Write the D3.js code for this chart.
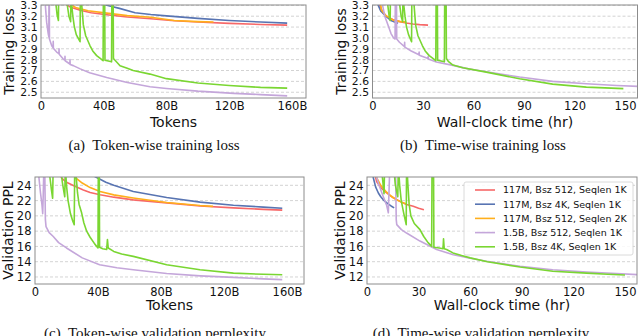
<!DOCTYPE html>
<html lang="en">
<head>
<meta charset="utf-8">
<script src="https://cdn.jsdelivr.net/npm/d3@7"></script>
<title>Training curves</title>
<style>
  body { margin:0; background:#fff; }
  svg text { font-family:"DejaVu Sans", sans-serif; fill:#111; }
  .tick text { font-size:11.5px; }
  .yloss .tick text { font-size:10.8px; }
  .axis-title { font-size:14px; }
  .caption { font-family:"Liberation Serif", "Times New Roman", serif !important; font-size:15px; }
  .grid line { stroke:#c8c8c8; stroke-width:0.8; stroke-dasharray:3,2; }
  .frame { fill:none; stroke:#8c8c8c; stroke-width:1; }
  .series { fill:none; stroke-width:1.6; stroke-linejoin:round; }
  .legend text { font-size:9.5px; }
</style>
</head>
<body>
<script>
var width = 640, height = 336;

// series, in plotting order
var seriesNames = ["117M, Bsz 512, Seqlen 1K", "117M, Bsz 4K, Seqlen 1K", "117M, Bsz 512, Seqlen 2K",
                   "1.5B, Bsz 512, Seqlen 1K", "1.5B, Bsz 4K, Seqlen 1K"];
var seriesColors = ["#f76868", "#5874b2", "#ffaf1c", "#c4a6da", "#7ad632"];

var tokenTicks = [0, 40, 80, 120, 160];
var hourTicks = [0, 30, 60, 90, 120, 150];
var lossTicks = [2.5, 2.6, 2.7, 2.8, 2.9, 3.0, 3.1, 3.2, 3.3];
var pplTicks = [12, 14, 16, 18, 20, 22, 24];

// (a) training loss vs tokens (B)
var lossTok_117M_512_1K = [[15,3.32],[18.5,3.285],[25,3.255],[32,3.232],[42,3.213],[55,3.192],[70,3.176],[85,3.158],[100,3.146],[120,3.134],[140,3.124],[157,3.118]];
var lossTok_117M_4K_1K = [[38,3.32],[42,3.3],[50,3.272],[60,3.232],[70,3.215],[80,3.203],[100,3.18],[120,3.161],[140,3.146],[157,3.136]];
var lossTok_117M_512_2K = [[18,3.32],[22,3.28],[30,3.25],[42,3.228],[55,3.205],[70,3.19],[85,3.16],[100,3.15],[110,3.146]];
var lossTok_15B_512_1K = [[1.5,3.6],[2.5,3.35],[3.6,3.145],[4.6,3.04],[5.0,3.01],[5.1,3.45],[5.3,3.45],[5.4,2.99],[6.8,2.93],[7.7,2.91],[7.8,2.97],[7.9,2.905],[10,2.87],[11.4,2.855],[11.5,2.9],[11.6,2.85],[14.2,2.805],[15.2,2.795],[15.3,2.83],[15.4,2.79],[18.4,2.76],[18.5,2.8],[18.6,2.755],[20.6,2.745],[25,2.715],[31,2.68],[41.9,2.636],[55,2.59],[69.5,2.55],[80,2.535],[100,2.51],[123,2.49],[140,2.478],[157,2.467]];
var lossTok_15B_4K_1K = [[8.8,3.4],[9.6,3.3],[10.3,3.21],[11.1,3.16],[11.3,3.45],[16.5,3.45],[16.8,3.3],[17.8,3.2],[18.9,3.15],[19.1,3.45],[19.3,3.45],[19.6,3.3],[20.3,3.2],[21.3,3.1],[22.5,3.03],[24.9,2.965],[25.1,3.45],[25.6,3.45],[26,3.3],[27,3.12],[28.5,3.02],[31.2,2.93],[33,2.88],[35.5,2.837],[39.6,2.79],[39.8,3.45],[40.6,3.45],[40.8,2.795],[45,2.78],[45.2,3.45],[46,3.45],[46.2,2.81],[47.5,2.79],[50.4,2.744],[55,2.72],[58.8,2.70],[69.5,2.667],[80,2.625],[100,2.585],[120,2.562],[140,2.545],[157,2.538]];

// (b) training loss vs wall-clock hours
var lossHr_117M_512_1K = [[3.5,3.4],[4.3,3.3],[6,3.24],[8.3,3.2],[12,3.17],[16.2,3.15],[20,3.138],[24,3.128],[28,3.122],[33,3.118]];
var lossHr_117M_4K_1K = [[3,3.4],[3.4,3.3],[5,3.245],[8.3,3.195],[11,3.16],[13.5,3.145],[15.2,3.136]];
var lossHr_117M_512_2K = [[4.5,3.35],[5.3,3.256],[8,3.205],[12.2,3.164],[16,3.152],[20,3.145]];
var lossHr_15B_512_1K = [[5,3.45],[6,3.3],[7.3,3.2],[8.6,3.145],[11,3.04],[12.5,3.0],[13.4,2.99],[13.6,3.45],[14.2,3.45],[14.4,2.99],[16,2.96],[19,2.92],[19.1,2.96],[19.2,2.915],[23,2.88],[27.6,2.845],[27.7,2.87],[27.8,2.84],[33,2.81],[33.1,2.83],[33.2,2.805],[37.9,2.778],[47.8,2.747],[57,2.715],[67.6,2.688],[87.4,2.64],[107,2.60],[127,2.578],[145,2.562],[160,2.552]];
var lossHr_15B_4K_1K = [[8.3,3.45],[9.1,3.3],[9.8,3.21],[10.5,3.16],[10.7,3.45],[15.9,3.45],[16.2,3.3],[17.0,3.2],[17.9,3.15],[18.1,3.45],[18.3,3.45],[18.6,3.3],[19.3,3.2],[20.2,3.1],[21.4,3.03],[23.2,2.965],[23.4,3.45],[24.3,3.45],[24.7,3.3],[25.6,3.12],[27,3.02],[29.6,2.93],[31.3,2.88],[33.7,2.837],[37.6,2.79],[37.8,3.45],[38.5,3.45],[38.7,2.795],[42.7,2.78],[42.9,3.45],[43.7,3.45],[43.9,2.81],[45,2.785],[47.8,2.75],[53.6,2.725],[67.6,2.685],[87.4,2.624],[107,2.575],[127,2.547],[149,2.533]];

// (c) validation perplexity vs tokens (B)
var pplTok_117M_512_1K = [[15,26],[16.9,24.95],[20,24.4],[25,23.9],[30.7,23.4],[35,23.05],[41.3,22.77],[50,22.45],[62.4,22.1],[83.6,21.7],[104.8,21.3],[126,21.05],[145,20.85],[157,20.75]];
var pplTok_117M_4K_1K = [[36,26],[38,25.15],[45,24.4],[50,24.0],[62.4,23.2],[83.6,22.4],[104.8,21.8],[126,21.4],[145,21.15],[157,21.0]];
var pplTok_117M_512_2K = [[23.5,26],[25.4,25.05],[30,24.3],[35,23.7],[41.3,23.2],[50,22.75],[62.4,22.35],[83.6,21.75],[104.8,21.35],[113,21.25]];
var pplTok_15B_512_1K = [[1.8,27],[2.5,25.0],[3.5,23.0],[4.4,21.5],[4.9,20.3],[5.2,22.5],[5.6,26],[6.2,26],[6.6,19.5],[7,18.6],[9,17.8],[11.6,17.3],[15,16.5],[20,15.8],[30,14.5],[41,13.6],[52,13.2],[62.4,12.95],[83.6,12.45],[105,12.15],[126,11.95],[145,11.75],[157,11.65]];
var pplTok_15B_4K_1K = [[8.5,26],[9.5,25.0],[10.5,23.3],[11.2,22.3],[11.5,26],[16.5,26],[17.3,24.5],[18.3,23.2],[18.9,22.5],[19.2,26],[19.4,26],[20,24],[21,22],[22.5,20.3],[24,19.3],[24.9,18.85],[25.2,26],[25.8,26],[26.2,25],[27,23],[28,21.5],[29.6,20.4],[31,19.1],[32.8,18.0],[35,17.2],[38,16.3],[40,15.8],[40.2,26],[40.8,26],[41,15.9],[43,15.7],[45.5,15.6],[46,16.9],[46.5,15.8],[50,15.35],[55,15.0],[62.4,14.7],[83.6,13.6],[104.8,12.95],[126,12.5],[145,12.35],[157,12.3]];

// (d) validation perplexity vs wall-clock hours
var pplHr_117M_512_1K = [[4,26],[5.6,24.5],[8,23.7],[11.4,23.0],[15,22.4],[19.2,21.9],[23,21.5],[26.9,21.25],[30,21.0],[33.1,20.8]];
var pplHr_117M_4K_1K = [[3,26],[3.7,24.95],[5,23.8],[6.6,23.0],[8,22.5],[9.5,22.1],[12,21.6],[14,21.3],[15.8,21.05]];
var pplHr_117M_512_2K = [[4.5,26],[5.6,25.0],[8,24.0],[11.4,23.1],[14,22.6],[17.2,22.1],[20,21.8],[23,21.55]];
var pplHr_15B_512_1K = [[4,27],[5,25.5],[7,24],[9,22.8],[11.4,21.4],[12.4,20.4],[13.2,26],[16.6,26],[17.0,19.5],[17.3,18.85],[20,18.2],[23,17.75],[30.8,16.7],[40.5,15.6],[50.2,14.9],[60,14.45],[69.6,14.05],[89,13.4],[108,12.95],[127.7,12.65],[145,12.45],[160,12.28]];
var pplHr_15B_4K_1K = [[8.5,26],[9.2,24.5],[9.9,22.9],[10.2,26],[15.7,26],[16.4,24.2],[17.4,23.0],[17.9,22.5],[18.2,26],[18.4,26],[19,24],[19.9,22],[21.4,20.3],[22.8,18.85],[23.0,26],[23.3,26],[23.8,24],[24.5,21.5],[25.5,20.0],[27.5,19.0],[30.8,18.2],[33,17.3],[35.5,16.5],[37.6,16.0],[37.8,26],[38.7,26],[38.9,15.9],[42,15.8],[44.2,15.7],[44.5,17.0],[44.9,15.7],[46.3,15.6],[50,15.15],[55,14.8],[60,14.5],[70,14.0],[89,13.3],[108,12.75],[127.7,12.5],[140,12.35],[150,12.25]];

var svg = d3.select("body").append("svg")
  .attr("width", width)
  .attr("height", height);

var tokFmt = function(d){ return d === 0 ? "0" : d + "B"; };

var panels = [
  { id:"a", box:[41,5,306,98], xDom:[0,169], yDom:[2.447,3.303], xTicks:tokenTicks, xFmt:tokFmt,
    yTicks:lossTicks, yFmt:d3.format(".1f"), xTitle:"Tokens", yTitle:"Training loss", yTitleX:14,
    caption:"(a)  Token-wise training loss", capX:154, capY:150,
    data:[lossTok_117M_512_1K, lossTok_117M_4K_1K, lossTok_117M_512_2K, lossTok_15B_512_1K, lossTok_15B_4K_1K] },
  { id:"b", box:[372.5,5,637.5,98], xDom:[0,157.4], yDom:[2.447,3.303], xTicks:hourTicks, xFmt:d3.format("d"),
    yTicks:lossTicks, yFmt:d3.format(".1f"), xTitle:"Wall-clock time (hr)", yTitle:"Training loss", yTitleX:346,
    caption:"(b)  Time-wise training loss", capX:483, capY:150,
    data:[lossHr_117M_512_1K, lossHr_117M_4K_1K, lossHr_117M_512_2K, lossHr_15B_512_1K, lossHr_15B_4K_1K] },
  { id:"c", box:[35,177,304,284], xDom:[0,170.8], yDom:[11.08,25.09], xTicks:tokenTicks, xFmt:tokFmt,
    yTicks:pplTicks, yFmt:d3.format("d"), xTitle:"Tokens", yTitle:"Validation PPL", yTitleX:12.5,
    caption:"(c)  Token-wise validation perplexity", capX:155, capY:338,
    data:[pplTok_117M_512_1K, pplTok_117M_4K_1K, pplTok_117M_512_2K, pplTok_15B_512_1K, pplTok_15B_4K_1K] },
  { id:"d", box:[367,177,637,284], xDom:[0,157], yDom:[11.08,25.09], xTicks:hourTicks, xFmt:d3.format("d"),
    yTicks:pplTicks, yFmt:d3.format("d"), xTitle:"Wall-clock time (hr)", yTitle:"Validation PPL", yTitleX:345,
    caption:"(d)  Time-wise validation perplexity", capX:481, capY:338,
    data:[pplHr_117M_512_1K, pplHr_117M_4K_1K, pplHr_117M_512_2K, pplHr_15B_512_1K, pplHr_15B_4K_1K], legend:true }
];

panels.forEach(function(p){
  var x0 = p.box[0], y0 = p.box[1], x1 = p.box[2], y1 = p.box[3];
  var X = d3.scaleLinear().domain(p.xDom).range([x0, x1]);
  var Y = d3.scaleLinear().domain(p.yDom).range([y1, y0]);

  // grid
  svg.append("g").attr("class","grid")
    .selectAll("line").data(p.yTicks).enter().append("line")
    .attr("x1", x0).attr("x2", x1)
    .attr("y1", function(d){ return Y(d); }).attr("y2", function(d){ return Y(d); });

  svg.append("clipPath").attr("id","clip-" + p.id)
    .append("rect").attr("x", x0).attr("y", y0).attr("width", x1 - x0).attr("height", y1 - y0);

  var line = d3.line().x(function(d){ return X(d[0]); }).y(function(d){ return Y(d[1]); });

  svg.append("g").attr("clip-path","url(#clip-" + p.id + ")")
    .selectAll(".series").data(p.data).enter().append("path")
    .attr("class","series")
    .attr("stroke", function(d, i){ return seriesColors[i]; })
    .attr("d", line);

  svg.append("rect").attr("class","frame")
    .attr("x", x0).attr("y", y0).attr("width", x1 - x0).attr("height", y1 - y0);

  var xa = svg.append("g").attr("transform","translate(0," + y1 + ")")
    .call(d3.axisBottom(X).tickValues(p.xTicks).tickFormat(p.xFmt).tickSize(0).tickPadding(4));
  xa.select(".domain").remove();

  var ya = svg.append("g").attr("transform","translate(" + x0 + ",0)")
    .attr("class", p.id < "c" ? "yloss" : "yppl")
    .call(d3.axisLeft(Y).tickValues(p.yTicks).tickFormat(p.yFmt).tickSize(0).tickPadding(3.5));
  ya.select(".domain").remove();

  svg.append("text").attr("class","axis-title")
    .attr("x", (x0 + x1) / 2).attr("y", y1 + (p.id < "c" ? 28.5 : 26))
    .attr("text-anchor","middle").text(p.xTitle);

  svg.append("text").attr("class","axis-title")
    .attr("transform","translate(" + p.yTitleX + "," + ((y0 + y1) / 2) + ") rotate(-90)")
    .attr("text-anchor","middle").text(p.yTitle);

  svg.append("text").attr("class","caption")
    .attr("x", p.capX).attr("y", p.capY)
    .attr("text-anchor","middle").style("white-space","pre").text(p.caption);

  if (p.legend) {
    var lg = svg.append("g").attr("class","legend");
    lg.append("rect").attr("x", 464).attr("y", 182).attr("width", 169).attr("height", 73)
      .attr("rx", 2).attr("fill","#fff").attr("fill-opacity",0.85).attr("stroke","#d0d0d0").attr("stroke-width",0.8);
    var rows = lg.selectAll(".row").data(seriesNames).enter().append("g")
      .attr("transform", function(d, i){ return "translate(475," + (190 + i * 14.2) + ")"; });
    rows.append("line").attr("x1",0).attr("x2",20)
      .attr("stroke", function(d, i){ return seriesColors[i]; }).attr("stroke-width",1.6);
    rows.append("text").attr("x",28).attr("dy","0.35em").text(function(d){ return d; });
  }
});
</script>
</body>
</html>
